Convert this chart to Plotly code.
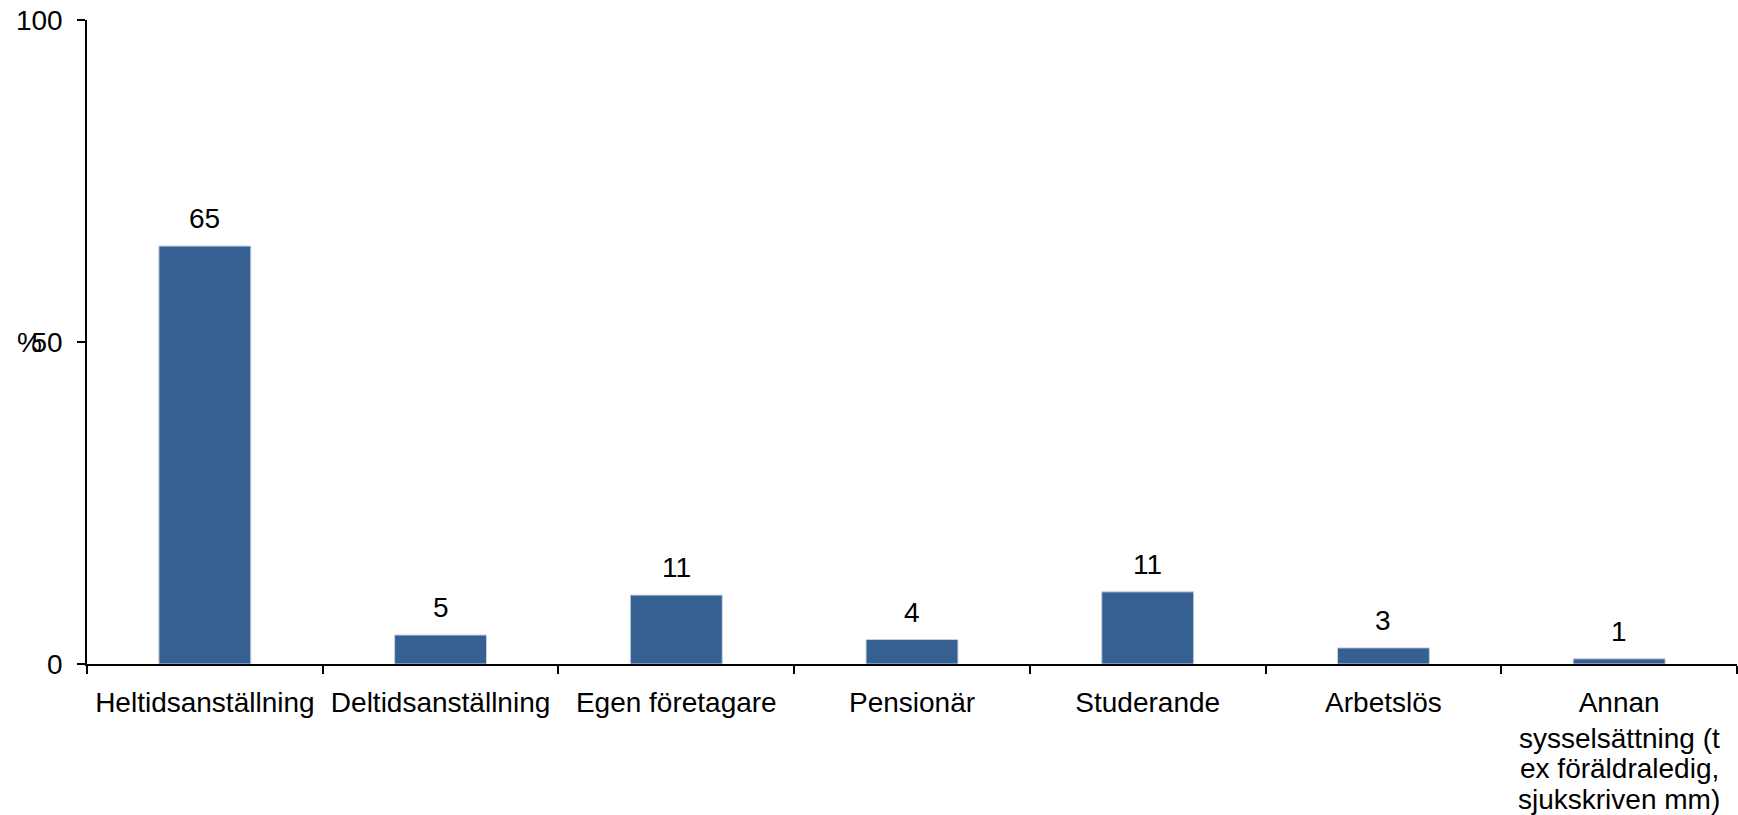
import plotly.graph_objects as go

categories = [
    "Heltidsanställning",
    "Deltidsanställning",
    "Egen företagare",
    "Pensionär",
    "Studerande",
    "Arbetslös",
    "Annan<br>sysselsättning (t<br>ex föräldraledig,<br>sjukskriven mm)",
]
values = [64.9, 4.5, 10.7, 3.8, 11.2, 2.5, 0.8]
value_labels = ["65", "5", "11", "4", "11", "3", "1"]
y_ticks = [0, 50, 100]

FONT = "Liberation Sans, Arial, sans-serif"
FS = 28
BAR_COLOR = "#376092"
LINE_GAP = 30.5  # px between wrapped lines of a category label

fig = go.Figure()
fig.add_trace(go.Bar(
    x=categories,
    y=values,
    marker=dict(color=BAR_COLOR, line=dict(color="#c5d2e4", width=1)),
    width=0.39,
    hoverinfo="y",
))

for c, v, lab in zip(categories, values, value_labels):
    fig.add_annotation(
        x=c, y=v, text=lab, showarrow=False,
        xref="x", yref="y", yanchor="bottom", yshift=10,
        font=dict(family=FONT, size=FS, color="black"),
    )

# first line of each category label as tick text; further lines as tighter-spaced annotations
tick_text = [c.split("<br>")[0] for c in categories]
for c in categories:
    lines = c.split("<br>")
    for i, line in enumerate(lines[1:], start=1):
        fig.add_annotation(
            x=c, y=0, xref="x", yref="paper", text=line, showarrow=False,
            xanchor="center", yanchor="middle", yshift=-(43.5 + i * LINE_GAP),
            font=dict(family=FONT, size=FS, color="black"),
        )

fig.add_annotation(
    x=-(87 - 29) / 1650, y=50, xref="paper", yref="y", text="%",
    showarrow=False, xanchor="center", yanchor="middle",
    font=dict(family=FONT, size=FS, color="black"),
)

fig.update_layout(
    width=1738, height=815,
    margin=dict(l=87, r=1, t=20, b=151),
    paper_bgcolor="white", plot_bgcolor="white",
    showlegend=False,
    font=dict(family=FONT, size=FS, color="black"),
)
fig.update_xaxes(
    tickmode="array", tickvals=categories, ticktext=tick_text,
    showline=True, linecolor="black", linewidth=1.5,
    ticks="outside", tickson="boundaries", ticklen=8, tickwidth=1.5, tickcolor="black",
    showgrid=False, zeroline=False, automargin=False,
    ticklabelstandoff=13,
    tickfont=dict(family=FONT, size=FS, color="black"),
)
fig.update_yaxes(
    range=[0, 100], tickvals=y_ticks,
    showline=True, linecolor="black", linewidth=1.5,
    ticks="outside", ticklen=8, tickwidth=1.5, tickcolor="black",
    showgrid=False, zeroline=False, automargin=False,
    ticklabelstandoff=9,
    tickfont=dict(family=FONT, size=FS, color="black"),
)

fig.write_html(
    "out.html",
    config={"displayModeBar": False},
    post_script="document.body.style.margin='0';document.body.style.overflow='hidden';",
)
